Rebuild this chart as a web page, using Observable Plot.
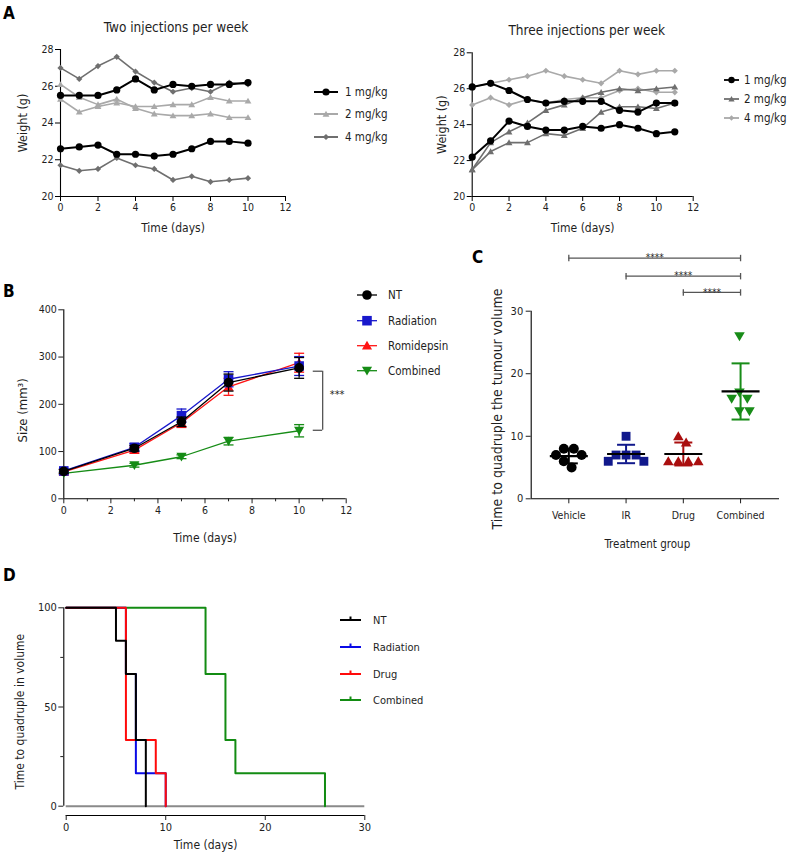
<!DOCTYPE html>
<html>
<head>
<meta charset="utf-8">
<script src="https://cdn.jsdelivr.net/npm/d3@7"></script>
<script src="https://cdn.jsdelivr.net/npm/@observablehq/plot@0.6"></script>
<style>
  html,body{margin:0;padding:0;background:#fff;}
  #root{position:relative;width:787px;height:852px;overflow:hidden;background:#fff;
    font-family:"DejaVu Sans Condensed","DejaVu Sans",sans-serif;font-stretch:condensed;color:#1a1a1a;}
  #root svg{position:absolute;overflow:visible;font-stretch:condensed;}
</style>
</head>
<body>
<div id="root"></div>
<script>
// ---------------- DATA ----------------
// Panel A – body weight (g)
const aDoses = ["1 mg/kg", "2 mg/kg", "4 mg/kg"];
const aXTicks = [0, 2, 4, 6, 8, 10, 12];
const aYTicks = [20, 22, 24, 26, 28];

const twoInjTitle = "Two injections per week";
const twoInjDays = [0, 1, 2, 3, 4, 5, 6, 7, 8, 9, 10];
const twoInj1mgA = [25.5, 25.5, 25.5, 25.8, 26.4, 25.8, 26.1, 26.0, 26.1, 26.1, 26.2];
const twoInj1mgB = [22.6, 22.7, 22.8, 22.3, 22.3, 22.2, 22.3, 22.6, 23.0, 23.0, 22.9];
const twoInj2mgA = [26.1, 25.4, 25.0, 25.3, 24.8, 24.5, 24.4, 24.4, 24.5, 24.3, 24.3];
const twoInj2mgB = [25.3, 24.6, 24.9, 25.1, 24.9, 24.9, 25.0, 25.0, 25.4, 25.2, 25.2];
const twoInj4mgA = [27.0, 26.4, 27.1, 27.6, 26.8, 26.2, 25.7, 25.9, 25.7, 26.2, 26.1];
const twoInj4mgB = [21.7, 21.4, 21.5, 22.1, 21.7, 21.5, 20.9, 21.1, 20.8, 20.9, 21.0];

const threeInjTitle = "Three injections per week";
const threeInjDays = [0, 1, 2, 3, 4, 5, 6, 7, 8, 9, 10, 11];
const threeInj1mgA = [26.1, 26.3, 25.9, 25.4, 25.2, 25.3, 25.3, 25.3, 24.8, 24.7, 25.2, 25.2];
const threeInj1mgB = [22.2, 23.1, 24.2, 23.9, 23.7, 23.7, 23.9, 23.8, 24.0, 23.8, 23.5, 23.6];
const threeInj2mgA = [21.5, 23.0, 23.6, 24.1, 24.8, 25.1, 25.5, 25.8, 26.0, 25.9, 26.0, 26.1];
const threeInj2mgB = [21.5, 22.5, 23.0, 23.0, 23.5, 23.4, 23.8, 24.7, 25.0, 25.0, 24.9, 25.2];
const threeInj4mgA = [26.1, 26.3, 26.5, 26.7, 27.0, 26.7, 26.5, 26.3, 27.0, 26.8, 27.0, 27.0];
const threeInj4mgB = [25.1, 25.5, 25.1, 25.4, 25.2, 25.4, 25.5, 25.5, 25.9, 26.0, 25.8, 25.8];

// Panel B – tumour size (mm3), mean ± SEM
const bGroups = ["NT", "Radiation", "Romidepsin", "Combined"];
const bDays = [0, 3, 5, 7, 10];
const bNT = [58, 107, 163, 246, 277];
const bNTErr = [4, 6, 10, 18, 22];
const bRad = [59, 109, 176, 253, 281];
const bRadErr = [4, 8, 14, 16, 20];
const bRomi = [57, 103, 161, 237, 288];
const bRomiErr = [4, 6, 10, 18, 20];
const bComb = [54, 71, 89, 122, 144];
const bCombErr = [3, 4, 4, 8, 13];
const bXTicks = [0, 2, 4, 6, 8, 10, 12];
const bXMinorTicks = [1, 3, 5, 7, 9, 11];
const bYTicks = [0, 100, 200, 300, 400];
const bSig = {x: 11, tickFrom: 10.6, top: 270, bottom: 145, label: "***"};

// Panel C – time to quadruple tumour volume (days)
const cCategories = ["Vehicle", "IR", "Drug", "Combined"];
const cVehicle = [8, 8, 7, 7, 6, 5];
const cIR = [10, 7, 7, 7, 6, 6];
const cDrug = [10, 9, 6, 6, 6, 6];
const cCombined = [26, 17, 16, 16, 14, 14];
const cYTicks = [0, 10, 20, 30];
const cSigBars = [
  {from: "Vehicle", to: "Combined", level: 38.5, label: "****"},
  {from: "IR", to: "Combined", level: 35.6, label: "****"},
  {from: "Drug", to: "Combined", level: 33.0, label: "****"}
];

// Panel D – Kaplan–Meier from the panel C event times
const dGroups = ["NT", "Radiation", "Drug", "Combined"];
const dXTicks = [0, 10, 20, 30];
const dYTicks = [0, 50, 100];
const dYMinorTicks = [25, 75];

// ---------------- HELPERS ----------------
const FONT = '"DejaVu Sans Condensed","DejaVu Sans",sans-serif';
const TXT = "#1e1e1e";
const root = document.getElementById("root");
function put(svg, left, top) { svg.style.left = left + "px"; svg.style.top = top + "px"; root.appendChild(svg); }
const baseStyle = {fontFamily: FONT, fontSize: "10px", background: "none", color: TXT, overflow: "visible"};

const symTriUp = {draw(ctx, size) { const r = Math.sqrt(size / Math.PI); ctx.moveTo(0, -r * 1.05); ctx.lineTo(r * 1.1, r * 0.85); ctx.lineTo(-r * 1.1, r * 0.85); ctx.closePath(); }};
const symTriDown = {draw(ctx, size) { const r = Math.sqrt(size / Math.PI); ctx.moveTo(0, r * 1.05); ctx.lineTo(r * 1.1, -r * 0.85); ctx.lineTo(-r * 1.1, -r * 0.85); ctx.closePath(); }};
const symHLine = {draw(ctx, size) { const r = Math.sqrt(size / Math.PI); ctx.moveTo(-r, 0); ctx.lineTo(r, 0); }};
const symVLine = {draw(ctx, size) { const r = Math.sqrt(size / Math.PI); ctx.moveTo(0, -r); ctx.lineTo(0, r); }};

// ---------------- PANEL A ----------------
function weightPanel(cfg) {
  const rows = cfg.series.flatMap(s => s.values.map((v, i) => ({day: cfg.days[i], w: v, dose: s.dose, key: s.key})));
  const marks = [
    Plot.ruleX([0], {stroke: "#000", strokeWidth: 1.1}),
    Plot.ruleY([20], {stroke: "#000", strokeWidth: 1.1}),
    Plot.axisX({ticks: aXTicks, tickSize: 5, tickPadding: 2, label: null, fontSize: 10.5, stroke: "#000"}),
    Plot.axisY({ticks: aYTicks, tickSize: 5, tickPadding: 2, label: null, fontSize: 10.5, stroke: "#000"})
  ];
  for (const d of cfg.drawOrder) {
    const sub = rows.filter(r => r.dose === d);
    marks.push(Plot.line(sub, {x: "day", y: "w", z: "key", stroke: cfg.colors[d], strokeWidth: cfg.widths[d]}));
    marks.push(Plot.dot(sub, {x: "day", y: "w", symbol: cfg.symbols[d], fill: cfg.colors[d], r: cfg.radii[d]}));
  }
  marks.push(
    Plot.text([cfg.title], {frameAnchor: "top", lineAnchor: "middle", textAnchor: "middle", dy: cfg.titleDy, dx: cfg.titleDx, fontSize: 13.5, fill: TXT}),
    Plot.text(["Time (days)"], {frameAnchor: "bottom", lineAnchor: "middle", textAnchor: "middle", dy: 32, fontSize: 12, fill: TXT}),
    Plot.text(["Weight (g)"], {frameAnchor: "left", lineAnchor: "middle", textAnchor: "middle", dx: cfg.yTitleDx, rotate: -90, fontSize: 12.5, fill: TXT})
  );
  return Plot.plot({
    width: cfg.width, height: 241,
    marginLeft: cfg.marginLeft, marginRight: cfg.marginRight, marginTop: cfg.marginTop, marginBottom: 45,
    style: baseStyle,
    x: {domain: [0, 12]},
    y: {domain: [20, 28]},
    marks
  });
}

const LIGHT = "#a9a9a9", DARK = "#6f6f6f";

put(weightPanel({
  days: twoInjDays, title: twoInjTitle, titleDx: 3, titleDy: -22, yTitleDx: -38,
  width: 400, marginLeft: 60, marginRight: 115, marginTop: 49,
  series: [
    {dose: "1 mg/kg", key: "1a", values: twoInj1mgA}, {dose: "1 mg/kg", key: "1b", values: twoInj1mgB},
    {dose: "2 mg/kg", key: "2a", values: twoInj2mgA}, {dose: "2 mg/kg", key: "2b", values: twoInj2mgB},
    {dose: "4 mg/kg", key: "4a", values: twoInj4mgA}, {dose: "4 mg/kg", key: "4b", values: twoInj4mgB}
  ],
  drawOrder: ["4 mg/kg", "2 mg/kg", "1 mg/kg"],
  colors: {"1 mg/kg": "#000", "2 mg/kg": LIGHT, "4 mg/kg": DARK},
  symbols: {"1 mg/kg": d3.symbolCircle, "2 mg/kg": symTriUp, "4 mg/kg": d3.symbolDiamond2},
  radii: {"1 mg/kg": 3.6, "2 mg/kg": 3.1, "4 mg/kg": 2.8},
  widths: {"1 mg/kg": 2, "2 mg/kg": 1.6, "4 mg/kg": 1.6}
}), 0, 0);

put(weightPanel({
  days: threeInjDays, title: threeInjTitle, titleDx: 4, titleDy: -22, yTitleDx: -30,
  width: 387, marginLeft: 71.7, marginRight: 94.3, marginTop: 52.3,
  series: [
    {dose: "1 mg/kg", key: "1a", values: threeInj1mgA}, {dose: "1 mg/kg", key: "1b", values: threeInj1mgB},
    {dose: "2 mg/kg", key: "2a", values: threeInj2mgA}, {dose: "2 mg/kg", key: "2b", values: threeInj2mgB},
    {dose: "4 mg/kg", key: "4a", values: threeInj4mgA}, {dose: "4 mg/kg", key: "4b", values: threeInj4mgB}
  ],
  drawOrder: ["4 mg/kg", "2 mg/kg", "1 mg/kg"],
  colors: {"1 mg/kg": "#000", "2 mg/kg": DARK, "4 mg/kg": LIGHT},
  symbols: {"1 mg/kg": d3.symbolCircle, "2 mg/kg": symTriUp, "4 mg/kg": d3.symbolDiamond2},
  radii: {"1 mg/kg": 3.6, "2 mg/kg": 3.1, "4 mg/kg": 2.8},
  widths: {"1 mg/kg": 2, "2 mg/kg": 1.6, "4 mg/kg": 1.6}
}), 400, 0);

// ---------------- PANEL B ----------------
const bColors = {"NT": "#000", "Radiation": "#1818cc", "Romidepsin": "#ff1414", "Combined": "#168c16"};
const bSymbols = {"NT": d3.symbolCircle, "Radiation": d3.symbolSquare, "Romidepsin": symTriUp, "Combined": symTriDown};
const bRadius = {"NT": 4.8, "Radiation": 5.4, "Romidepsin": 4.6, "Combined": 4.6};
const bSeries = {
  "NT": [bNT, bNTErr], "Radiation": [bRad, bRadErr], "Romidepsin": [bRomi, bRomiErr], "Combined": [bComb, bCombErr]
};
{
  const marks = [
    Plot.ruleX([0], {stroke: "#000", strokeWidth: 1.1}),
    Plot.ruleY([0], {stroke: "#000", strokeWidth: 1.1}),
    Plot.axisX({ticks: bXTicks, tickSize: 5, tickPadding: 3, label: null, fontSize: 10.5}),
    Plot.axisX({ticks: bXMinorTicks, tickSize: 3, tickFormat: () => "", label: null}),
    Plot.axisY({ticks: bYTicks, tickSize: 5, tickPadding: 2, label: null, fontSize: 10.5})
  ];
  for (const g of ["Combined", "Romidepsin", "Radiation", "NT"]) {
    const [vals, errs] = bSeries[g];
    const rows = vals.map((v, i) => ({day: bDays[i], v, lo: v - errs[i], hi: v + errs[i]}));
    const c = bColors[g];
    marks.push(
      Plot.ruleX(rows, {x: "day", y1: "lo", y2: "hi", stroke: c, strokeWidth: 1.3}),
      Plot.dot(rows, {x: "day", y: "lo", symbol: symHLine, r: 5, stroke: c, fill: "none", strokeWidth: 1.3}),
      Plot.dot(rows, {x: "day", y: "hi", symbol: symHLine, r: 5, stroke: c, fill: "none", strokeWidth: 1.3}),
      Plot.line(rows, {x: "day", y: "v", stroke: c, strokeWidth: 1.3}),
      Plot.dot(rows, {x: "day", y: "v", symbol: bSymbols[g], r: bRadius[g], fill: c})
    );
  }
  // significance bracket
  marks.push(
    Plot.ruleX([bSig], {x: "x", y1: "bottom", y2: "top", stroke: "#555", strokeWidth: 1.3}),
    Plot.ruleY([bSig], {y: "top", x1: "tickFrom", x2: "x", stroke: "#555", strokeWidth: 1.3}),
    Plot.ruleY([bSig], {y: "bottom", x1: "tickFrom", x2: "x", stroke: "#555", strokeWidth: 1.3}),
    Plot.text([bSig], {x: d => d.x + 0.3, y: d => (d.top + d.bottom) / 2, text: "label", textAnchor: "start", dy: -6, fontSize: 11, fill: TXT}),
    Plot.text(["Time (days)"], {frameAnchor: "bottom", lineAnchor: "middle", textAnchor: "middle", dy: 39, fontSize: 12, fill: TXT}),
    Plot.text(["Size (mm³)"], {frameAnchor: "left", lineAnchor: "middle", textAnchor: "middle", dx: -41, dy: 6, rotate: -90, fontSize: 13, fill: TXT})
  );
  put(Plot.plot({
    width: 440, height: 280, marginLeft: 63.3, marginRight: 94.3, marginTop: 29.3, marginBottom: 61.7,
    style: baseStyle, x: {domain: [0, 12]}, y: {domain: [0, 400]}, marks
  }), 0, 280);
}

// ---------------- PANEL C ----------------
const cColors = {"Vehicle": "#000", "IR": "#11198c", "Drug": "#aa0f0f", "Combined": "#188c18"};
const cSymbols = {"Vehicle": d3.symbolCircle, "IR": d3.symbolSquare, "Drug": symTriUp, "Combined": symTriDown};
const cRadius = {"Vehicle": 5, "IR": 5, "Drug": 4.8, "Combined": 4.8};
const cValues = {"Vehicle": cVehicle, "IR": cIR, "Drug": cDrug, "Combined": cCombined};
{
  const W = 347, H = 320, mL = 90.7, mR = 8, mT = 70.7, mB = 61.7;
  const xDomain = [-0.657, 3.68];
  const step = (W - mL - mR) / (xDomain[1] - xDomain[0]);
  const pxPerY = (H - mT - mB) / 30;
  // greedy beeswarm (pixel space), then recentred
  function swarm(values, D) {
    const placed = [];
    return values.map(v => {
      const y = v * pxPerY;
      const cands = [0];
      for (const p of placed) {
        const dy = Math.abs(p.y - y);
        if (dy < D) { const h = Math.sqrt(D * D - dy * dy); cands.push(p.x + h + 0.01, p.x - h - 0.01); }
      }
      cands.sort((a, b) => Math.abs(a) - Math.abs(b) || b - a);
      const x = cands.find(c => placed.every(p => Math.hypot(p.x - c, p.y - y) >= D - 0.05));
      placed.push({x, y});
      return x;
    });
  }
  const stats = cCategories.map((name, i) => {
    const vals = cValues[name];
    const mean = d3.mean(vals), sd = d3.deviation(vals);
    return {name, i, mean, lo: mean - sd, hi: mean + sd};
  });
  const marks = [
    Plot.ruleX([xDomain[0]], {stroke: "#000", strokeWidth: 1.1}),
    Plot.ruleY([0], {stroke: "#000", strokeWidth: 1.1}),
    Plot.axisX({ticks: [0, 1, 2, 3], tickFormat: i => cCategories[i], tickSize: 5, tickPadding: 8, label: null, fontSize: 10.5}),
    Plot.axisY({ticks: cYTicks, tickSize: 5, tickPadding: 3, label: null, fontSize: 11})
  ];
  for (const s of stats) {
    const offs = swarm(cValues[s.name], 10);
    const mid = (d3.min(offs) + d3.max(offs)) / 2;
    const pts = cValues[s.name].map((v, k) => ({x: s.i + (offs[k] - mid) / step, y: v}));
    const c = cColors[s.name];
    marks.push(
      Plot.dot(pts, {x: "x", y: "y", symbol: cSymbols[s.name], r: cRadius[s.name], fill: c}),
      Plot.ruleX([s], {x: "i", y1: "lo", y2: "hi", stroke: c, strokeWidth: 2}),
      Plot.dot([s], {x: "i", y: "lo", symbol: symHLine, r: 9, stroke: c, fill: "none", strokeWidth: 2}),
      Plot.dot([s], {x: "i", y: "hi", symbol: symHLine, r: 9, stroke: c, fill: "none", strokeWidth: 2}),
      Plot.dot([s], {x: "i", y: "mean", symbol: symHLine, r: 19, stroke: "#000", fill: "none", strokeWidth: 2.2})
    );
  }
  const sig = cSigBars.map(b => ({x1: cCategories.indexOf(b.from), x2: cCategories.indexOf(b.to), y: b.level, label: b.label}));
  marks.push(
    Plot.ruleY(sig, {x1: "x1", x2: "x2", y: "y", stroke: "#555", strokeWidth: 1.3}),
    Plot.dot(sig, {x: "x1", y: "y", symbol: symVLine, r: 3.2, stroke: "#555", fill: "none", strokeWidth: 1.3}),
    Plot.dot(sig, {x: "x2", y: "y", symbol: symVLine, r: 3.2, stroke: "#555", fill: "none", strokeWidth: 1.3}),
    Plot.text(sig, {x: d => (d.x1 + d.x2) / 2, y: "y", text: "label", fontSize: 10, fill: TXT}),
    Plot.text(["Treatment group"], {frameAnchor: "bottom", lineAnchor: "middle", textAnchor: "middle", dx: -8, dy: 46, fontSize: 11.5, fill: TXT}),
    Plot.text(["Time to quadruple the tumour volume"], {frameAnchor: "left", lineAnchor: "middle", textAnchor: "middle", dx: -34, dy: 4, rotate: -90, fontSize: 14, fill: TXT})
  );
  put(Plot.plot({
    width: W, height: H, marginLeft: mL, marginRight: mR, marginTop: mT, marginBottom: mB,
    style: baseStyle, x: {domain: xDomain}, y: {domain: [0, 30]}, marks
  }), 440, 240);
}

// ---------------- PANEL D ----------------
const dColors = {"NT": "#000", "Radiation": "#0a0ae6", "Drug": "#ff0a0a", "Combined": "#138c13"};
const dSource = {"NT": cVehicle, "Radiation": cIR, "Drug": cDrug, "Combined": cCombined};
function kmSteps(times) {
  const uniq = Array.from(new Set(times)).sort((a, b) => a - b);
  let atRisk = times.length, s = 100;
  const pts = [{t: 0, s: 100}];
  for (const t of uniq) {
    const d = times.filter(x => x === t).length;
    s = s * (atRisk - d) / atRisk; atRisk -= d;
    pts.push({t, s});
  }
  return pts;
}
{
  const marks = [
    Plot.ruleY([0], {stroke: "#8a8a8a", strokeWidth: 2}),
    Plot.ruleY([0], {dy: 9.3, stroke: "#000", strokeWidth: 1.1}),
    Plot.ruleX([0], {y1: 0, y2: 100, dx: -2.4, stroke: "#000", strokeWidth: 1.1}),
    Plot.axisX({ticks: dXTicks, tickSize: 5, tickPadding: 3, label: null, fontSize: 11}),
    Plot.axisY({ticks: dYTicks, tickSize: 5, tickPadding: 2, label: null, fontSize: 11, dx: -2.4}),
    Plot.axisY({ticks: dYMinorTicks, tickSize: 3, tickFormat: () => "", label: null, dx: -2.4})
  ];
  for (const g of ["Combined", "Radiation", "Drug", "NT"]) {
    marks.push(Plot.line(kmSteps(dSource[g]), {x: "t", y: "s", curve: "step-after", stroke: dColors[g], strokeWidth: 2}));
  }
  marks.push(
    Plot.text(["Time (days)"], {frameAnchor: "bottom", lineAnchor: "middle", textAnchor: "middle", dx: -10, dy: 30, fontSize: 12, fill: TXT}),
    Plot.text(["Time to quadruple in volume"], {frameAnchor: "left", lineAnchor: "middle", textAnchor: "middle", dx: -46, rotate: -90, fontSize: 12, fill: TXT})
  );
  put(Plot.plot({
    width: 440, height: 292, marginLeft: 65.7, marginRight: 75.7, marginTop: 47.3, marginBottom: 37,
    style: baseStyle, x: {domain: [0, 30]}, y: {domain: [0, 100], insetBottom: 9.3}, marks
  }), 0, 560);
}

// ---------------- OVERLAY: panel letters + legends ----------------
const ov = d3.create("svg").attr("width", 787).attr("height", 852)
  .style("left", "0px").style("top", "0px").style("pointer-events", "none")
  .attr("font-family", FONT).attr("fill", TXT);
for (const [t, x, y] of [["A", 3, 19], ["B", 3, 297], ["C", 472, 263], ["D", 3, 581]]) {
  ov.append("text").attr("x", x).attr("y", y).attr("font-size", 17).attr("font-weight", "bold").attr("fill", "#000").text(t);
}
function legend(items, o) {
  items.forEach((it, k) => {
    const y = o.ys[k];
    ov.append("line").attr("x1", o.x0).attr("x2", o.x1).attr("y1", y).attr("y2", y)
      .attr("stroke", it.color).attr("stroke-width", o.sw);
    if (it.symbol) ov.append("path").attr("transform", `translate(${(o.x0 + o.x1) / 2},${y})`)
      .attr("d", d3.symbol(it.symbol, it.r * it.r * Math.PI)()).attr("fill", it.color);
    if (o.tick) ov.append("line").attr("x1", (o.x0 + o.x1) / 2).attr("x2", (o.x0 + o.x1) / 2)
      .attr("y1", y).attr("y2", y - 3.5).attr("stroke", it.color).attr("stroke-width", 2);
    ov.append("text").attr("x", o.tx).attr("y", y).attr("dy", "0.35em").attr("font-size", o.fs).text(it.label);
  });
}
legend([
  {label: aDoses[0], color: "#000", symbol: d3.symbolCircle, r: 3.6},
  {label: aDoses[1], color: LIGHT, symbol: symTriUp, r: 3.1},
  {label: aDoses[2], color: DARK, symbol: d3.symbolDiamond2, r: 2.8}
], {x0: 314, x1: 338, tx: 345, ys: [92, 114, 137], sw: 2, fs: 11.5});
legend([
  {label: aDoses[0], color: "#000", symbol: d3.symbolCircle, r: 3.2},
  {label: aDoses[1], color: DARK, symbol: symTriUp, r: 2.8},
  {label: aDoses[2], color: LIGHT, symbol: d3.symbolDiamond2, r: 2.4}
], {x0: 724, x1: 739, tx: 744, ys: [80, 99, 118], sw: 1.8, fs: 11.5});
legend(bGroups.map(g => ({label: g, color: bColors[g], symbol: bSymbols[g], r: bRadius[g]})),
  {x0: 357, x1: 377, tx: 388, ys: [295, 320.7, 345.7, 370.7], sw: 1.3, fs: 11.5});
legend(dGroups.map(g => ({label: g, color: dColors[g]})),
  {x0: 340, x1: 361, tx: 373, ys: [620, 647, 674, 700], sw: 2, fs: 11, tick: true});
root.appendChild(ov.node());
</script>
</body>
</html>
